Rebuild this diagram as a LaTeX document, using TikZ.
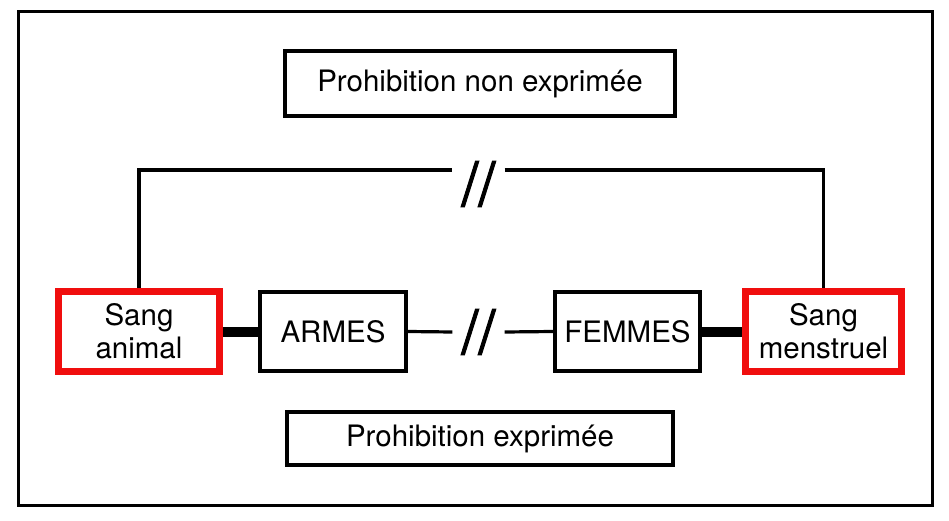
\documentclass[tikz,border=0pt]{standalone}
\usepackage{fontspec}
\setmainfont{TeX Gyre Heros}
\newfontfamily\slashfont[FakeBold=1.6]{TeX Gyre Heros}
\usetikzlibrary{
    positioning
}
\definecolor{ink}{RGB}{0,0,0}
\definecolor{bloodred}{RGB}{240,14,14}
\tikzset{
    line cap=butt,
    line join=miter,
    frame/.style={
        draw=ink,
        line width=3pt
    },
    labelbox/.style={
        rectangle,
        draw=ink,
        line width=4pt,
        fill=white,
        text=ink,
        inner sep=0pt,
        align=center,
        font=\fontsize{29.5}{33}\selectfont
    },
    bloodbox/.style={
        labelbox,
        draw=bloodred,
        line width=7pt
    },
    thinlink/.style={
        draw=ink,
        line width=3.2pt
    },
    thicklink/.style={
        draw=ink,
        line width=10pt
    },
    breakmark/.style={
        inner xsep=9pt,
        inner ysep=0pt,
        text=ink,
        font=\slashfont\fontsize{61}{64}\selectfont
    }
}

\begin{document}
\begin{tikzpicture}[x=1pt, y=-1pt]
\useasboundingbox (0,0) rectangle (949,521);

% Outer frame
\draw[frame] (18,12) rectangle (932,505);

% Top and bottom captions
\node[labelbox, minimum width=390pt, minimum height=65pt] (nonexpr) at (480,84) {Prohibition non exprimée};
\node[labelbox, minimum width=386pt, minimum height=53pt] (expr) at (480,438.5) {Prohibition exprimée};

% Middle row
\node[bloodbox, minimum width=161pt, minimum height=80pt] (sanganimal) at (139,331.5) {Sang\\animal};
\node[labelbox, right=35pt of sanganimal, minimum width=146pt, minimum height=79pt] (armes) {ARMES};
\node[labelbox, minimum width=145pt, minimum height=79pt] (femmes) at (627.5,331.5) {FEMMES};
\node[bloodbox, right=40pt of femmes, minimum width=156pt, minimum height=80pt] (sangmens) {Sang\\menstruel};

% Break marks
\node[breakmark] (brklow) at (478.5,332) {//};
\node[breakmark] (brktop) at (478.5,184) {//};

% Links
\draw[thicklink] (sanganimal.east) -- (armes.west);
\draw[thicklink] (femmes.east) -- (sangmens.west);
\draw[thinlink] (armes.east) -- (brklow.west);
\draw[thinlink] (brklow.east) -- (femmes.west);
\draw[thinlink] (sanganimal.north) |- ([yshift=14pt]brktop.west);
\draw[thinlink] ([yshift=14pt]brktop.east) -| (sangmens.north);

\end{tikzpicture}
\end{document}
